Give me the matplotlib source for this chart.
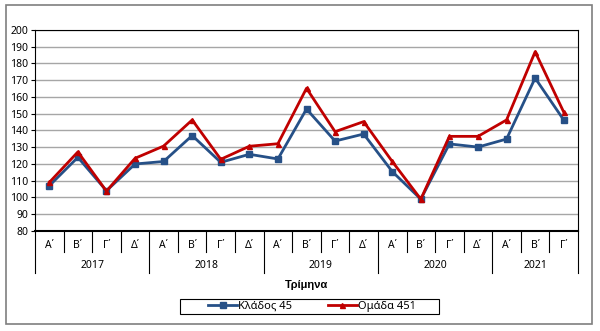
import matplotlib
matplotlib.use("Agg")
import matplotlib.pyplot as plt
from matplotlib.patches import Rectangle
from matplotlib.lines import Line2D
import matplotlib.transforms as mtransforms

plt.rcParams['font.family'] = ['Noto Sans', 'DejaVu Sans']

years = ["2017", "2018", "2019", "2020", "2021"]
quarters_per_year = [4, 4, 4, 4, 3]
quarter_names = ["Α΄", "Β΄", "Γ΄", "Δ΄"]

klados_45 = [107, 124, 104, 120, 121.5, 137, 121, 125.8, 123, 152.8, 133.7, 137.9,
             115.5, 99, 132, 130.1, 134.9, 171.3, 146.3]
omada_451 = [109, 127.2, 103.8, 123.4, 130.7, 146.3, 122.8, 130.6, 132.1, 165.2, 139.3, 145.3,
             121.5, 99, 136.5, 136.5, 146.3, 187, 151]

blue = "#265087"
red = "#C00000"

fig = plt.figure(figsize=(6.0, 3.31), dpi=100)
W, H = 600, 331

# outer frame
fig.patches.append(Rectangle((6 / W, (H - 324) / H), (592 - 6) / W, (324 - 5) / H,
                             transform=fig.transFigure, fill=False,
                             edgecolor="#7F7F7F", linewidth=1.2, zorder=0))
# legend frame
fig.patches.append(Rectangle((180 / W, (H - 314) / H), (439 - 180) / W, 15 / H,
                             transform=fig.transFigure, fill=False,
                             edgecolor="black", linewidth=0.8, zorder=0))

ax = fig.add_axes([35 / W, (H - 231) / H, (578 - 35) / W, (231 - 30) / H])

x = list(range(len(klados_45)))
ax.plot(x, klados_45, color=blue, lw=2.0, marker="s", ms=4.0, mfc=blue, mec=blue,
        label="Κλάδος 45", zorder=3)
ax.plot(x, omada_451, color=red, lw=2.0, marker="^", ms=3.6, mfc=red, mec=red,
        label="Ομάδα 451", zorder=4)

ax.set_xlim(-0.5, len(x) - 0.5)
ax.set_ylim(80, 200)
ax.set_yticks(range(80, 201, 10))
ax.tick_params(axis="y", labelsize=7.5, length=3, width=0.8, pad=2, colors="black")
ax.yaxis.grid(True, color="#A6A6A6", lw=1.0)
ax.set_axisbelow(True)
for s in ["top", "right", "left"]:
    ax.spines[s].set_linewidth(0.8)
    ax.spines[s].set_color("black")
ax.spines["bottom"].set_linewidth(1.5)
ax.set_xticks([])

trans = mtransforms.blended_transform_factory(ax.transData, ax.transAxes)
px = 1 / 201.0  # axes fraction per pixel (vertical)

labels = []
for n in quarters_per_year:
    labels += quarter_names[:n]
for i, lab in enumerate(labels):
    ax.text(i, -14 * px, lab, transform=trans, ha="center", va="center", fontsize=7.5)

idx = 0
bounds = [-0.5]
for y_i, n in zip(years, quarters_per_year):
    start = idx
    idx += n
    bounds.append(idx - 0.5)
    ax.text((start + idx - 1) / 2, -35 * px, y_i, transform=trans, ha="center",
            va="center", fontsize=7.5)

for b in range(len(x) + 1):
    pos = b - 0.5
    length = 42 if pos in bounds else 21
    ax.add_line(Line2D([pos, pos], [0, -length * px], transform=trans, color="black",
                       lw=0.8, clip_on=False))

ax.text(0.5, -54 * px, "Τρίμηνα", transform=ax.transAxes, ha="center", va="center",
        fontsize=8, fontweight="bold", family=["Liberation Sans", "DejaVu Sans"])

leg = fig.legend(loc="center", bbox_to_anchor=(312 / W, (H - 306.5) / H), ncol=2,
                 fontsize=8, frameon=False,
                 handlelength=2.6, columnspacing=3.2, handletextpad=0.1,
                 borderpad=0.1, borderaxespad=0)

fig.savefig("out.png", dpi=100)
